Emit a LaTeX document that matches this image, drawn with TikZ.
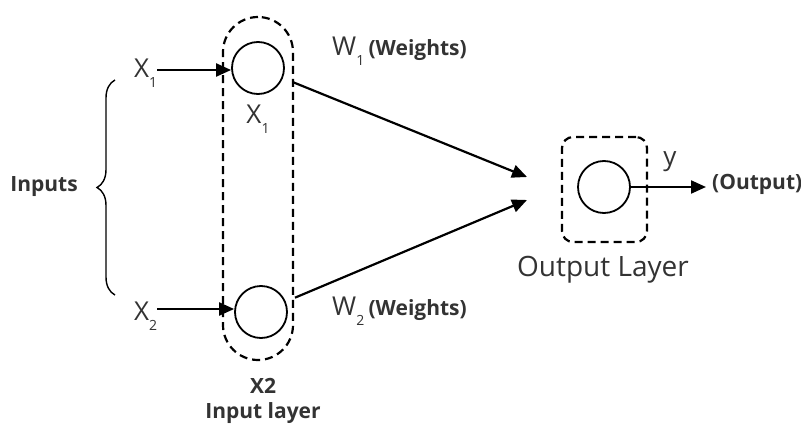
\documentclass[tikz,border=0pt]{standalone}
\usepackage{fontspec}
\setmainfont{Open Sans}
\usetikzlibrary{arrows.meta,decorations.pathreplacing}
\definecolor{txt}{HTML}{333333}
\newcommand{\sbs}[1]{\raisebox{-0.4em}{\fontsize{14}{14}\selectfont #1}}
\tikzset{
  neuron/.style={circle,draw,line width=1.8pt,minimum size=52pt,inner sep=0pt},
  conn/.style={line width=2.2pt,-{Triangle[length=15pt,width=13pt]}},
  dashbox/.style={draw,line width=2.2pt,dash pattern=on 8pt off 5pt,inner sep=0pt},
  lbl/.style={text=txt,inner sep=0pt,font=\fontsize{26}{26}\selectfont},
  blbl/.style={text=txt,inner sep=0pt,font=\fontsize{21}{25}\selectfont\bfseries,align=center},
}
\begin{document}
\begin{tikzpicture}[x=1pt,y=1pt]
\useasboundingbox (0,0) rectangle (801,-428);
% input layer capsule
\node[dashbox,rounded corners=35pt,minimum width=70pt,minimum height=343pt] (inlayer) at (258,-188.5) {};
\node[neuron] (in1) at (258,-68) {};
\node[neuron] (in2) at (261,-312) {};
% output box
\node[dashbox,rounded corners=11pt,minimum width=85pt,minimum height=105pt] (outlayer) at (604.5,-189.5) {};
\node[neuron] (out) at (604,-187) {};
% labels
\node[lbl,anchor=west] (x1) at (134,-73) {X\sbs{1}};
\node[lbl,anchor=west] (x2) at (134,-316) {X\sbs{2}};
\node[lbl] (x1b) at (258,-119) {X\sbs{1}};
\node[blbl] (inputs) at (44,-187) {Inputs};
\node[blbl] (x2b) at (263,-401) {X2\\Input layer};
\node[lbl,anchor=west] (w1) at (332,-51) {W\sbs{1}\,\textbf{\fontsize{21}{21}\selectfont(Weights)}};
\node[lbl,anchor=west] (w2) at (332,-311) {W\sbs{2}\,\textbf{\fontsize{21}{21}\selectfont(Weights)}};
\node[lbl] (y) at (670,-162) {y};
\node[blbl,anchor=west] (outp) at (712,-184) {(Output)};
\node[lbl,font=\fontsize{28}{28}\selectfont] (ol) at (603,-270) {Output Layer};
% connectors
\coordinate (t1) at (527,-177);
\coordinate (t2) at (527,-200);
\coordinate (t3) at (706,-187);
\draw[conn] (x1.east |- 0,-70) -- (in1.west |- 0,-70);
\draw[conn] (x2.east |- 0,-309) -- (in2.west |- 0,-309);
\draw[conn,shorten <=11pt] (in1) -- (t1);
\draw[conn,shorten <=10pt] (in2) -- (t2);
\draw[conn] (out.east) -- (t3);
% brace
\coordinate (b1) at (115,-295);
\coordinate (b2) at (115,-80);
\draw[line width=1.4pt,decorate,decoration={brace,amplitude=18pt}] (b1) -- (b2);
\end{tikzpicture}
\end{document}
